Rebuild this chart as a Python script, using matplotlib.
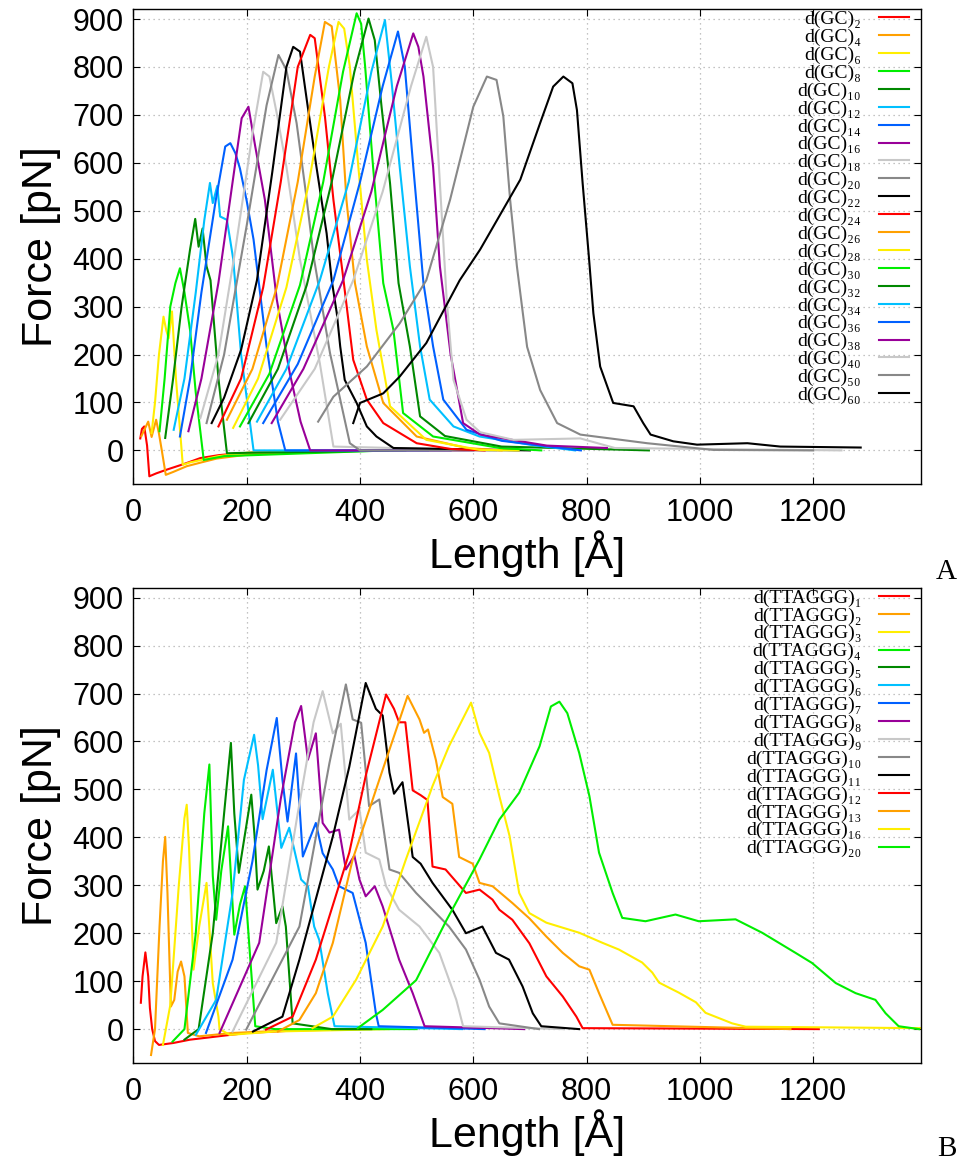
import matplotlib
matplotlib.use("Agg")
import matplotlib.pyplot as plt

# ---- panel A: d(GC)n pulling curves (length in A, force in pN) ----
gc02_len = [12, 15, 19, 24, 28, 40, 59, 90, 118, 150, 176, 220, 300]
gc02_force = [25, 45, 50, 10, -54, -48, -40, -28, -16, -10, -7, -4, -2]
gc04_len = [14, 20, 26, 32, 40, 45, 50, 57, 70, 94, 120, 147, 200, 250, 350]
gc04_force = [30, 45, 60, 28, 64, 35, 0, -51, -45, -33, -25, -17, -9, -5, -2]
gc06_len = [32, 38, 45, 53, 58, 62, 68, 75, 87, 100, 150, 200, 400]
gc06_force = [36, 100, 200, 279, 250, 234, 290, 150, -30, -25, -12, -5, -1]
gc08_len = [46, 55, 65, 74, 82, 90, 100, 110, 124, 160, 450]
gc08_force = [40, 150, 300, 349, 380, 330, 250, 120, -20, -12, 0]
gc10_len = [56, 70, 85, 100, 109, 115, 122, 129, 136, 150, 165, 200, 480]
gc10_force = [26, 150, 300, 420, 483, 425, 463, 384, 355, 150, -6, -5, 0]
gc12_len = [71, 90, 110, 125, 135, 140, 148, 153, 165, 176, 190, 212, 520]
gc12_force = [43, 150, 330, 480, 558, 516, 552, 488, 481, 400, 200, 0, 0]
gc14_len = [82, 100, 120, 145, 162, 171, 180, 188, 200, 212, 235, 255, 268, 560]
gc14_force = [29, 150, 330, 520, 634, 641, 620, 588, 520, 440, 217, 60, 0, 0]
gc16_len = [97, 120, 150, 175, 191, 203, 215, 232, 253, 276, 295, 312, 600]
gc16_force = [40, 150, 350, 560, 693, 717, 634, 523, 315, 161, 60, 0, 0]
gc18_len = [118, 150, 180, 210, 229, 240, 253, 270, 294, 329, 353, 640]
gc18_force = [67, 200, 420, 660, 790, 780, 703, 592, 398, 182, 8, 0]
gc20_len = [129, 160, 200, 235, 256, 270, 288, 306, 318, 347, 382, 400, 680]
gc20_force = [57, 200, 470, 720, 825, 794, 683, 523, 405, 203, 15, 0, 0]
gc22_len = [138, 160, 190, 218, 245, 270, 282, 294, 306, 323, 341, 350, 359, 365, 373, 394, 412, 429, 459, 700]
gc22_force = [57, 110, 210, 355, 580, 800, 842, 832, 731, 592, 453, 355, 286, 217, 147, 99, 50, 29, 5, 0]
gc24_len = [150, 190, 229, 260, 290, 312, 320, 338, 353, 370, 388, 412, 441, 500, 560, 620]
gc24_force = [50, 150, 340, 560, 800, 867, 860, 697, 523, 363, 189, 106, 57, 15, 3, 0]
gc26_len = [165, 210, 253, 290, 320, 338, 350, 365, 376, 391, 412, 441, 500, 588, 650]
gc26_force = [64, 170, 340, 560, 780, 894, 885, 731, 523, 349, 217, 99, 29, 5, 0]
gc28_len = [176, 220, 270, 310, 345, 362, 372, 382, 397, 412, 429, 453, 517, 611, 680]
gc28_force = [47, 150, 340, 560, 800, 894, 880, 801, 592, 398, 251, 92, 22, 1, 0]
gc30_len = [188, 240, 294, 335, 370, 394, 402, 409, 423, 441, 459, 476, 529, 647, 720]
gc30_force = [50, 160, 345, 560, 790, 912, 890, 801, 592, 349, 251, 78, 29, 5, 0]
gc32_len = [203, 255, 306, 350, 390, 415, 426, 438, 453, 468, 488, 506, 550, 650, 910]
gc32_force = [57, 170, 345, 560, 790, 901, 856, 717, 557, 349, 217, 71, 30, 8, 0]
gc34_len = [218, 270, 329, 380, 420, 444, 456, 470, 488, 506, 523, 565, 611, 700, 780]
gc34_force = [60, 170, 355, 560, 790, 898, 766, 592, 384, 217, 106, 50, 29, 12, 0]
gc36_len = [229, 290, 353, 400, 440, 467, 479, 494, 512, 529, 547, 588, 650, 720, 790]
gc36_force = [57, 180, 355, 560, 760, 874, 801, 592, 349, 217, 106, 43, 20, 10, 0]
gc38_len = [244, 300, 370, 420, 465, 494, 503, 512, 529, 541, 560, 582, 612, 730, 836]
gc38_force = [57, 170, 355, 540, 760, 870, 842, 780, 592, 384, 200, 57, 33, 10, 5]
gc40_len = [259, 320, 388, 440, 490, 517, 529, 553, 565, 588, 612, 671, 789, 850, 1250]
gc40_force = [64, 170, 355, 540, 760, 863, 800, 315, 147, 64, 38, 22, 25, 5, 0]
gc50_len = [326, 353, 412, 470, 517, 559, 600, 624, 641, 653, 665, 677, 695, 718, 748, 789, 907, 1024, 1200]
gc50_force = [60, 112, 175, 265, 355, 523, 717, 780, 773, 697, 523, 384, 216, 126, 57, 33, 15, 1, 0]
gc60_len = [388, 400, 441, 470, 517, 576, 612, 683, 718, 741, 759, 775, 783, 793, 804, 812, 824, 847,
            883, 900, 913, 953, 995, 1084, 1142, 1284]
gc60_force = [57, 99, 119, 154, 224, 355, 419, 565, 683, 759, 780, 766, 710, 558, 405, 286, 175, 99,
              92, 57, 33, 19, 12, 15, 8, 6]

gc_labels = ["2", "4", "6", "8", "10", "12", "14", "16", "18", "20", "22",
             "24", "26", "28", "30", "32", "34", "36", "38", "40", "50", "60"]

# ---- panel B: d(TTAGGG)n pulling curves ----
tt01_len = [13, 16, 21, 26, 29, 33, 38, 45, 70, 100, 150, 200, 300]
tt01_force = [55, 110, 160, 110, 44, 0, -25, -33, -29, -22, -15, -8, -2]
tt02_len = [31, 38, 46, 52, 56, 60, 66, 72, 78, 84, 90, 96, 116, 175, 250, 400]
tt02_force = [-54, 0, 214, 350, 401, 284, 47, 61, 120, 141, 110, -8, -15, -8, -4, 0]
tt03_len = [52, 65, 80, 90, 94, 98, 106, 116, 129, 140, 150, 152, 170, 250, 450]
tt03_force = [-33, 50, 300, 440, 468, 380, 124, 214, 305, 96, 26, 0, -12, -5, 0]
tt04_len = [69, 90, 110, 125, 134, 140, 146, 155, 167, 173, 178, 188, 197, 206, 215, 250, 500]
tt04_force = [-26, 0, 200, 450, 552, 320, 228, 330, 423, 300, 197, 260, 298, 150, 6, 0, 0]
tt05_len = [90, 115, 140, 160, 172, 178, 186, 200, 208, 214, 219, 230, 239, 252, 263, 269, 281, 350, 420]
tt05_force = [-22, 0, 200, 450, 597, 450, 326, 430, 489, 400, 291, 330, 381, 221, 256, 214, 12, 0, 0]
tt06_len = [110, 146, 175, 195, 213, 220, 228, 246, 261, 275, 296, 308, 319, 328, 343, 355, 580]
tt06_force = [-12, 61, 284, 520, 614, 550, 438, 541, 378, 420, 312, 298, 214, 186, 75, 6, 0]
tt07_len = [128, 175, 210, 235, 253, 263, 272, 287, 299, 322, 334, 352, 363, 387, 410, 428, 433, 620]
tt07_force = [-8, 145, 350, 540, 649, 520, 433, 575, 360, 430, 367, 333, 298, 284, 180, 33, 6, 0]
tt08_len = [152, 222, 260, 285, 296, 308, 322, 334, 346, 363, 375, 390, 399, 410, 426, 440, 469, 493, 514, 690]
tt08_force = [-8, 180, 480, 640, 674, 562, 617, 430, 410, 416, 333, 362, 312, 277, 298, 256, 145, 75, 6, 0]
tt09_len = [175, 252, 290, 318, 334, 352, 366, 381, 399, 410, 434, 446, 469, 505, 540, 570, 582, 760]
tt09_force = [-5, 180, 450, 640, 705, 617, 637, 437, 458, 368, 354, 298, 249, 214, 159, 61, 6, 0]
tt10_len = [199, 293, 346, 375, 387, 402, 416, 434, 452, 469, 499, 528, 557, 587, 611, 628, 646, 716]
tt10_force = [-1, 214, 555, 719, 646, 639, 465, 479, 333, 326, 284, 249, 214, 166, 103, 47, 12, 0]
tt11_len = [211, 263, 293, 352, 381, 410, 428, 440, 452, 460, 475, 493, 507, 528, 563, 587, 616, 640,
            663, 687, 705, 720, 787]
tt11_force = [-5, 26, 145, 402, 547, 722, 668, 654, 535, 491, 515, 359, 345, 305, 249, 200, 214, 159,
              145, 89, 33, 6, 0]
tt12_len = [234, 281, 322, 381, 410, 446, 460, 469, 480, 493, 507, 519, 528, 551, 587, 611, 634, 646,
            669, 699, 729, 758, 782, 793, 1210]
tt12_force = [-1, 26, 145, 368, 528, 698, 668, 640, 640, 498, 488, 478, 339, 333, 284, 291, 270, 249,
              228, 179, 110, 68, 26, 2, 0]
tt13_len = [255, 293, 322, 352, 387, 434, 484, 505, 513, 520, 534, 546, 563, 575, 599, 611, 634, 669,
            699, 729, 758, 787, 805, 822, 846, 1160]
tt13_force = [-5, 19, 75, 180, 354, 520, 695, 646, 618, 625, 561, 484, 470, 359, 345, 305, 298, 263,
              231, 193, 159, 131, 124, 75, 9, 0]
tt16_len = [316, 352, 393, 440, 481, 528, 557, 596, 611, 628, 646, 664, 681, 699, 729, 787, 828, 857,
            898, 916, 928, 963, 993, 1010, 1040, 1057, 1081, 1390]
tt16_force = [2, 26, 103, 214, 354, 507, 590, 681, 618, 576, 486, 403, 284, 242, 222, 201, 180, 166,
              139, 118, 97, 76, 56, 34, 20, 12, 5, 2]
tt20_len = [396, 440, 499, 553, 611, 646, 681, 717, 737, 752, 766, 787, 805, 822, 846, 863, 904, 957,
            998, 1063, 1110, 1169, 1198, 1240, 1275, 1310, 1328, 1351, 1387]
tt20_force = [2, 40, 102, 228, 354, 437, 493, 590, 673, 683, 659, 576, 486, 368, 284, 232, 225, 239,
              225, 229, 201, 159, 138, 96, 75, 61, 33, 6, 0]

tt_labels = ["1", "2", "3", "4", "5", "6", "7", "8", "9", "10", "11", "12", "13", "16", "20"]

line_colors = ["#ff0000", "#ffa000", "#ffee00", "#00ee00", "#008800", "#00c0ff",
               "#0060ff", "#990099", "#c8c8c8", "#888888", "#000000"]

gc_curves = [(gc02_len, gc02_force), (gc04_len, gc04_force), (gc06_len, gc06_force),
             (gc08_len, gc08_force), (gc10_len, gc10_force), (gc12_len, gc12_force),
             (gc14_len, gc14_force), (gc16_len, gc16_force), (gc18_len, gc18_force),
             (gc20_len, gc20_force), (gc22_len, gc22_force), (gc24_len, gc24_force),
             (gc26_len, gc26_force), (gc28_len, gc28_force), (gc30_len, gc30_force),
             (gc32_len, gc32_force), (gc34_len, gc34_force), (gc36_len, gc36_force),
             (gc38_len, gc38_force), (gc40_len, gc40_force), (gc50_len, gc50_force),
             (gc60_len, gc60_force)]
tt_curves = [(tt01_len, tt01_force), (tt02_len, tt02_force), (tt03_len, tt03_force),
             (tt04_len, tt04_force), (tt05_len, tt05_force), (tt06_len, tt06_force),
             (tt07_len, tt07_force), (tt08_len, tt08_force), (tt09_len, tt09_force),
             (tt10_len, tt10_force), (tt11_len, tt11_force), (tt12_len, tt12_force),
             (tt13_len, tt13_force), (tt16_len, tt16_force), (tt20_len, tt20_force)]

plt.rcParams.update({
    "font.family": "Liberation Sans",
    "axes.linewidth": 1.0,
})

# unicode subscript digits keep the key rows tight without mathtext boxes
sub_digits = str.maketrans("0123456789", "\u2080\u2081\u2082\u2083\u2084\u2085\u2086\u2087\u2088\u2089")

fig = plt.figure(figsize=(9.61, 11.67), dpi=100)
ax_a = fig.add_axes([0.1389, 0.5853, 0.8192, 0.4066])
ax_b = fig.add_axes([0.1389, 0.0894, 0.8192, 0.4067])


def draw_panel(ax, curves, labels, prefix):
    for i, (xs, ys) in enumerate(curves):
        ax.plot(xs, ys, color=line_colors[i % len(line_colors)], lw=1.5,
                label=prefix + labels[i].translate(sub_digits))
    ax.set_xlim(0, 1390)
    ax.set_ylim(-70, 920)
    ax.set_xticks(range(0, 1201, 200))
    ax.set_yticks(range(0, 901, 100))
    ax.grid(True, color="#b0b0b0", ls=(0, (1, 3)), lw=0.9)
    ax.tick_params(direction="in", top=True, right=True, length=5, labelsize=22)
    ax.tick_params(axis="x", pad=10)
    ax.tick_params(axis="y", pad=7)
    ax.set_xlabel("Length [Å]", fontsize=31, labelpad=2)
    ax.set_ylabel("Force [pN]", fontsize=31, labelpad=8)
    # gnuplot-style key: text right-justified, sample line after it
    leg = ax.legend(loc="upper right", bbox_to_anchor=(0.985, 0.998), frameon=False,
                    markerfirst=False,
                    prop={"family": ["Liberation Serif", "DejaVu Serif"], "size": 14},
                    handlelength=1.55, handletextpad=0.9, labelspacing=0.012,
                    borderpad=0.0, borderaxespad=0.0)
    return leg


draw_panel(ax_a, gc_curves, gc_labels, "d(GC)")
draw_panel(ax_b, tt_curves, tt_labels, "d(TTAGGG)")

fig.text(0.985, 0.51, "A", family="Liberation Serif", fontsize=21, ha="center", va="center")
fig.text(0.985, 0.015, "B", family="Liberation Serif", fontsize=21, ha="center", va="center")

fig.savefig("out.png", dpi=100)
